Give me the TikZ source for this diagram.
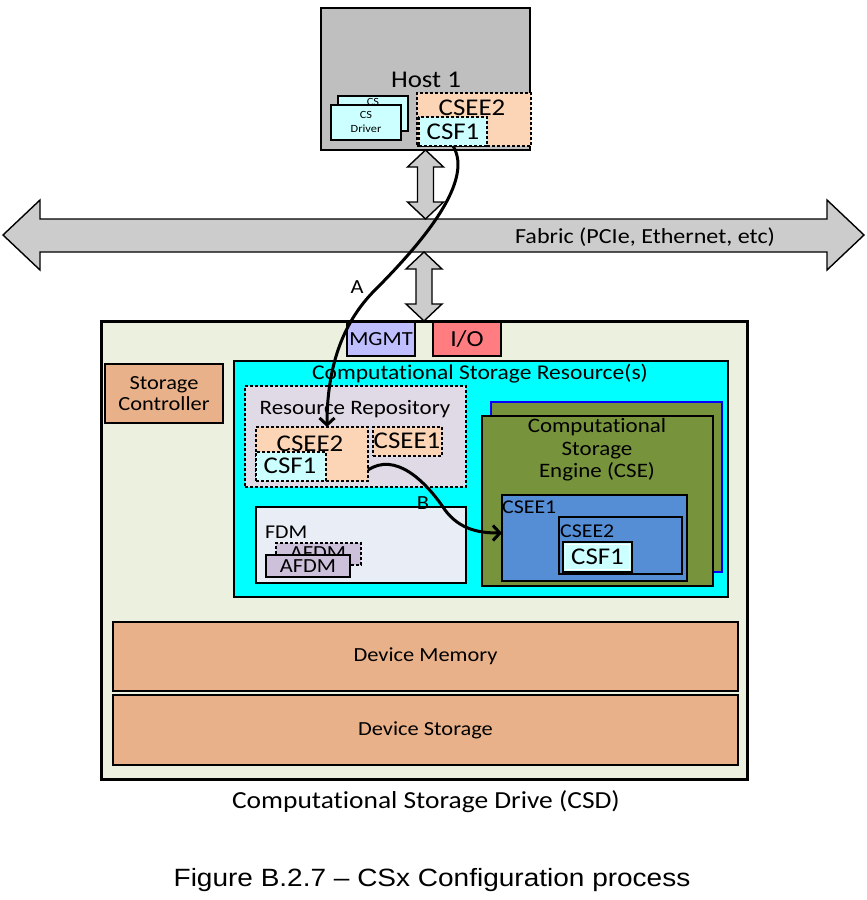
\documentclass[tikz,border=0pt]{standalone}
\usepackage{fontspec}
\setmainfont{Carlito}[FakeStretch=1.12,Ligatures=NoCommon]
\newfontfamily\captionfont{Liberation Sans}[FakeStretch=1.12]
\usetikzlibrary{arrows.meta,calc}
\definecolor{hostgray}{RGB}{191,191,191}
\definecolor{fabricgray}{RGB}{204,204,204}
\definecolor{palecyan}{RGB}{204,255,255}
\definecolor{peach}{RGB}{251,213,181}
\definecolor{csdbg}{RGB}{235,241,222}
\definecolor{mgmtblue}{RGB}{191,191,255}
\definecolor{iored}{RGB}{255,124,128}
\definecolor{csrcyan}{RGB}{0,255,255}
\definecolor{repolav}{RGB}{224,218,230}
\definecolor{fdmpale}{RGB}{233,237,246}
\definecolor{afdmlav}{RGB}{204,192,218}
\definecolor{csegreen}{RGB}{119,147,60}
\definecolor{cseblue}{RGB}{0,0,255}
\definecolor{cseeblue}{RGB}{85,142,213}
\definecolor{tanbox}{RGB}{233,177,137}
\newcommand\fsz[1]{\fontsize{#1}{#1}\selectfont}
% vertical two-headed hollow arrow between a top tip and a bottom tip
\newcommand\hollowlink[2]{%
  \draw[hollow] (#1) -- ++(18,17) -- ++(-10,0) -- ($(#2)+(8,-17)$) -- ++(10,0)
    -- (#2) -- ++(-18,-17) -- ++(10,0) -- ($(#1)+(-8,17)$) -- ++(-10,0) -- cycle;}
\begin{document}
\begin{tikzpicture}[x=1pt,y=-1pt,
  box/.style={draw=black, line width=2pt, inner sep=0pt, outer sep=0pt, anchor=north west},
  dbox/.style={box, line width=1.6pt, dash pattern=on 3pt off 2pt},
  txt/.style={inner sep=0pt, text=black},
  flow/.style={line width=3pt, -{Straight Barb[length=7pt,width=15pt,line width=3pt]}},
  hollow/.style={draw=black, line width=1.4pt, fill=fabricgray, line join=miter}
]
\path[use as bounding box] (0,0) rectangle (867,900);

% ---------------- host ----------------
\node[box, line width=2.5pt, fill=hostgray, minimum width=209pt, minimum height=142pt] (host) at (321,8) {};
\node[txt, font=\fsz{24}] (hostlbl) at (426,80) {Host 1};
\node[box, fill=palecyan, minimum width=70pt, minimum height=35pt] (drvback) at (338,96) {};
\node[txt, font=\fsz{11}] (drvbacklbl) at (373,102) {CS};
\node[box, fill=palecyan, minimum width=70pt, minimum height=35pt] (drvfront) at (331,105) {};
\node[txt, font=\fsz{11}, align=center] (drvlbl) at (366,122) {CS\\[3pt]Driver};
\node[dbox, fill=peach, minimum width=114pt, minimum height=53pt] (hcsee2) at (417,93) {};
\node[txt, font=\fsz{24}] (hcsee2lbl) at (472,108) {CSEE2};
\node[dbox, fill=palecyan, minimum width=68pt, minimum height=29pt] (hcsf1) at (419,117) {};
\node[txt, font=\fsz{24}] (hcsf1lbl) at (453,132) {CSF1};

% ---------------- fabric ----------------
\draw[hollow] (3,235) -- (40,200) -- (40,219) -- (827,219) -- (827,200) -- (864,235)
  -- (827,270) -- (827,252) -- (40,252) -- (40,270) -- cycle;
\node[txt, font=\fsz{21.5}] (fabriclbl) at (645,237) {Fabric (PCIe, Ethernet, etc)};
\coordinate (fabtop) at (425.5,219);
\coordinate (fabbot) at (424,252);

% ---------------- drive ----------------
\node[box, line width=3pt, fill=csdbg, minimum width=646pt, minimum height=458pt] (csd) at (101,321) {};
\hollowlink{host.south}{fabtop}
\hollowlink{fabbot}{csd.north}
\node[box, fill=mgmtblue, minimum width=68pt, minimum height=34pt, font=\fsz{20}] (mgmt) at (347,322) {MGMT};
\node[box, fill=iored, minimum width=68pt, minimum height=34pt, font=\fsz{23}] (io) at (433,322) {I/O};

\node[box, fill=tanbox, minimum width=118pt, minimum height=59pt, font=\fsz{20}, align=center] (stctrl) at (105,364) {Storage\\[1pt]Controller};

\node[box, fill=csrcyan, minimum width=494pt, minimum height=236pt] (csr) at (234,361) {};
\node[txt, font=\fsz{21}] (csrlbl) at (480,374) {Computational Storage Resource(s)};

% resource repository
\node[dbox, fill=repolav, minimum width=221pt, minimum height=101pt] (repo) at (245,386) {};
\node[txt, font=\fsz{20.5}] (repolbl) at (355,409) {Resource Repository};
\node[dbox, fill=peach, minimum width=112pt, minimum height=54pt] (rcsee2) at (256,427) {};
\node[txt, font=\fsz{24}] (rcsee2lbl) at (310,444) {CSEE2};
\node[dbox, fill=palecyan, minimum width=70pt, minimum height=29pt] (rcsf1) at (256,452) {};
\node[txt, font=\fsz{24}] (rcsf1lbl) at (290,466) {CSF1};
\node[dbox, fill=peach, minimum width=69pt, minimum height=29pt] (rcsee1) at (373,427) {};
\node[txt, font=\fsz{24}] (rcsee1lbl) at (407,441) {CSEE1};

% FDM
\node[box, fill=fdmpale, minimum width=210pt, minimum height=76pt] (fdm) at (256,507) {};
\node[txt, font=\fsz{19.5}, anchor=west] (fdmlbl) at (265,532) {FDM};
\node[dbox, fill=afdmlav, minimum width=85pt, minimum height=22pt] (afdmback) at (276,543) {};
\node[txt, font=\fsz{20}] (afdmbacklbl) at (318,553) {AFDM};
\node[box, fill=afdmlav, minimum width=84pt, minimum height=22pt, font=\fsz{20}] (afdm) at (266,555) {AFDM};

% compute engine
\node[box, draw=cseblue, fill=csegreen, minimum width=231pt, minimum height=170pt] (cseback) at (491,402) {};
\node[box, fill=csegreen, minimum width=231pt, minimum height=170pt] (cse) at (482,416) {};
\node[txt, font=\fsz{20.5}, align=center] (cselbl) at (597,450) {Computational\\[2pt]Storage\\[2pt]Engine (CSE)};
\node[box, fill=cseeblue, minimum width=185pt, minimum height=86pt] (cseeA) at (502,495) {};
\node[txt, font=\fsz{19.5}, anchor=west] (cseeAlbl) at (502,507) {CSEE1};
\node[box, fill=cseeblue, minimum width=123pt, minimum height=57pt] (cseeB) at (559,517) {};
\node[txt, font=\fsz{19.5}, anchor=west] (cseeBlbl) at (560,531) {CSEE2};
\node[box, fill=palecyan, line width=2pt, minimum width=69pt, minimum height=30pt, font=\fsz{24}] (csf) at (563,542) {CSF1};
\draw[white, line width=1pt] ($(csf.north west)+(2.8,2.8)$) rectangle ($(csf.south east)+(-2.8,-2.8)$);

% memory and storage
\node[box, fill=tanbox, minimum width=625pt, minimum height=69pt, font=\fsz{20}] (devmem) at (113,622) {Device Memory};
\node[box, fill=tanbox, minimum width=625pt, minimum height=70pt, font=\fsz{20}] (devstor) at (113,695) {Device Storage};

\node[txt, font=\fsz{24.5}] (csdlbl) at (426,802) {Computational Storage Drive (CSD)};

% ---------------- configuration flows ----------------
\draw[flow] (hcsf1.south) .. controls (474,180) and (425,240) .. (375,290)
  .. controls (350,315) and (327,355) .. ($(rcsee2.north west)+(71,0)$);
\node[txt, font=\fsz{20}] (lblA) at (357,287) {A};
\draw[flow] ($(rcsee2.south east)+(0,-11)$) .. controls (395,452) and (425,480) .. (445,510)
  .. controls (460,530) and (480,533) .. ($(cseeA.west)+(0,-5)$);
\node[txt, font=\fsz{20}] (lblB) at (423,503) {B};

% ---------------- caption ----------------
\node[txt, font=\captionfont\fsz{25}] (caption) at (432,880) {Figure B.2.7 – CSx Configuration process};
\end{tikzpicture}
\end{document}
